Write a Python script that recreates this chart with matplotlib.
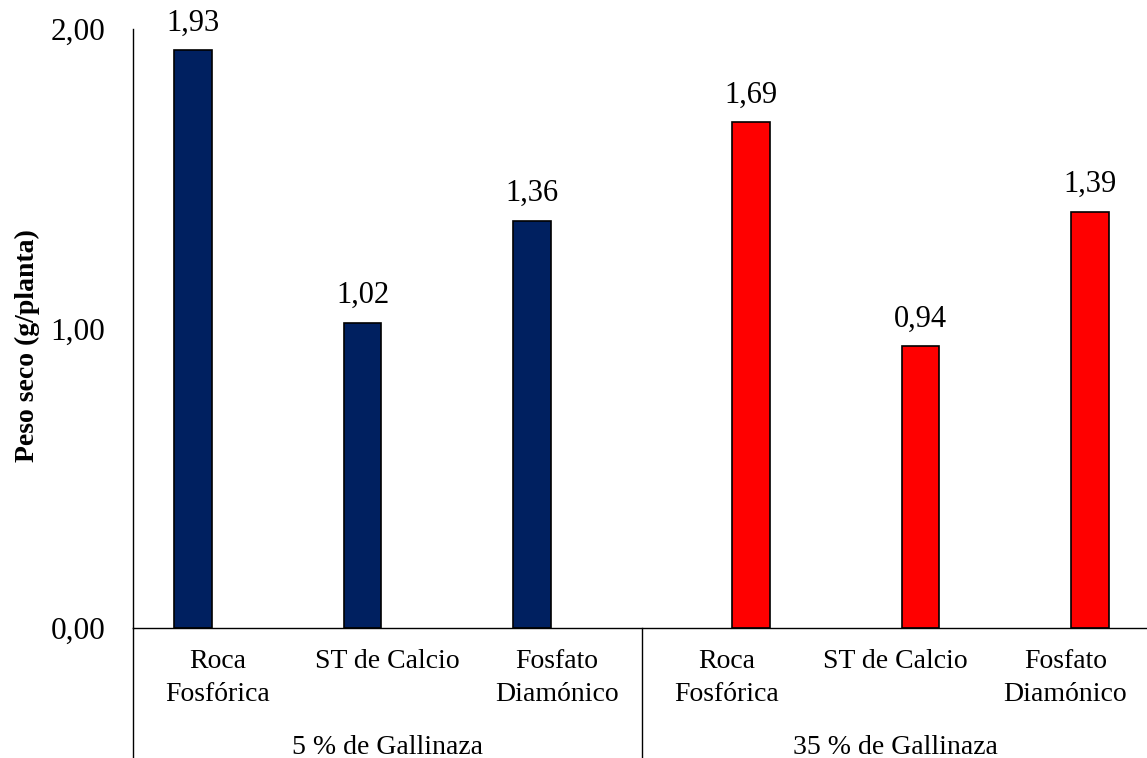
import matplotlib
matplotlib.use("Agg")
import matplotlib.pyplot as plt
import matplotlib.transforms as mtransforms
import numpy as np

plt.rcParams["font.family"] = ["Liberation Serif", "DejaVu Serif"]

# Tratamientos de fosforo dentro de cada nivel de gallinaza
tratamientos = ["Roca\nFosfórica", "ST de Calcio", "Fosfato\nDiamónico"]
grupos = ["5 % de Gallinaza", "35 % de Gallinaza"]
peso_5 = [1.93, 1.02, 1.36]
peso_35 = [1.69, 0.94, 1.39]

COLOR_5 = "#002060"
COLOR_35 = "#FF0000"
ANCHO = 0.224
DESPL = 0.146


def coma(v):
    return f"{v:.2f}".replace(".", ",")


fig = plt.figure(figsize=(11.47, 7.58), dpi=100)
ax = fig.add_axes([133 / 1147, 130 / 758, 1017 / 1147, 599 / 758])

n = len(tratamientos)
x5 = np.arange(n) + 0.5 - DESPL
x35 = np.arange(n) + n + 0.5 + DESPL

b5 = ax.bar(x5, peso_5, width=ANCHO, color=COLOR_5, edgecolor="black", linewidth=1.2)
b35 = ax.bar(x35, peso_35, width=ANCHO, color=COLOR_35, edgecolor="black", linewidth=1.2)

for barras, valores in ((b5, peso_5), (b35, peso_35)):
    for rect, v in zip(barras, valores):
        ax.annotate(coma(v), (rect.get_x() + rect.get_width() / 2, v),
                    xytext=(0, 9), textcoords="offset points",
                    ha="center", va="bottom", fontsize=22)

ax.set_xlim(0, 2 * n)
ax.set_ylim(0, 2)
ax.set_yticks([0, 1, 2])
ax.set_yticklabels([coma(t) for t in [0, 1, 2]])
ax.tick_params(axis="y", length=0, pad=20, labelsize=22.5)

ax.set_xticks(np.arange(2 * n) + 0.5)
ax.set_xticklabels(tratamientos * 2, linespacing=1.42)
ax.tick_params(axis="x", length=0, pad=15, labelsize=20)

for lado in ("top", "right"):
    ax.spines[lado].set_visible(False)
for lado in ("left", "bottom"):
    ax.spines[lado].set_linewidth(1.0)

# Separadores y etiquetas del segundo nivel del eje de categorias
trans = mtransforms.blended_transform_factory(ax.transData, ax.transAxes)
for xs in (0, n):
    ax.plot([xs, xs], [0, -0.22], color="black", linewidth=1.0,
            transform=trans, clip_on=False)
for i, g in enumerate(grupos):
    ax.text(i * n + n / 2, -0.2100, g, transform=trans, ha="center",
            va="baseline", fontsize=20)

fig.text(27 / 1147, 1 - 346 / 758, "Peso seco (g/planta)", rotation=90,
         ha="center", va="center", fontsize=20, fontweight="bold")

fig.savefig("out.png", dpi=100)
